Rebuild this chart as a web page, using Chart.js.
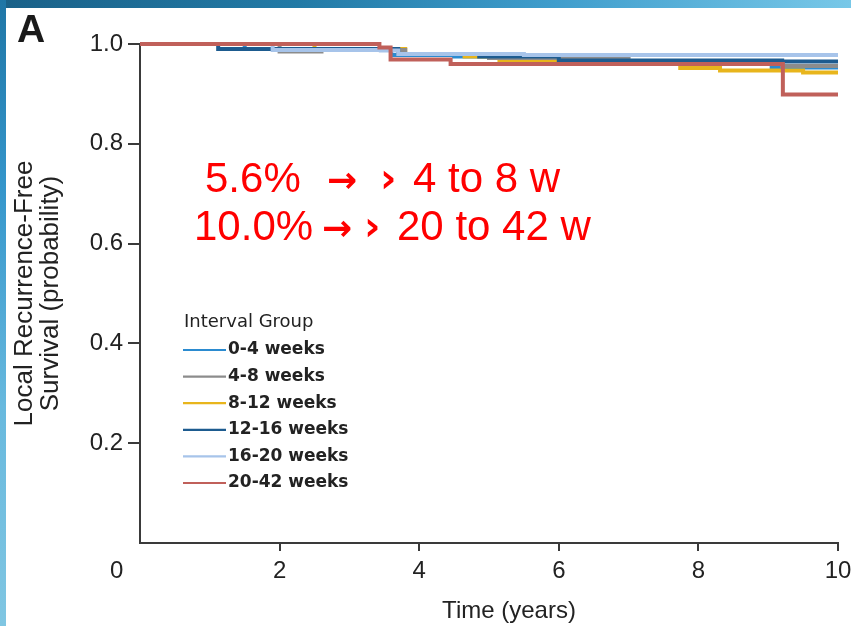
<!DOCTYPE html>
<html><head><meta charset="utf-8">
<script src="https://cdn.jsdelivr.net/npm/chart.js@4.4.1/dist/chart.umd.min.js"></script>
<style>
html,body{margin:0;padding:0;background:#fff;}
#wrap{position:relative;width:851px;height:626px;overflow:hidden;background:#fff;}
#topbar{position:absolute;left:0;top:0;width:851px;height:8px;background:linear-gradient(to right,#1a6188,#227aa6 35%,#3f9dcc 65%,#78c8e8);}
#leftbar{position:absolute;left:0;top:0;width:6px;height:626px;background:linear-gradient(to bottom,#1f76a6,#3596cb 30%,#68b9de 65%,#80c6e2);}
canvas{position:absolute;left:0;top:0;}
</style></head>
<body><div id="wrap"><canvas id="c" width="851" height="626"></canvas><div id="topbar"></div><div id="leftbar"></div></div>
<script>
// ---- data ----
const groups = ['0-4 weeks','4-8 weeks','8-12 weeks','12-16 weeks','16-20 weeks','20-42 weeks'];
const colors = ['#2b8bd0','#8c8c8c','#e8b51c','#1d5b8f','#a7c4ea','#c0605a'];
const drawOrder = [5,3,4,2,1,0];
const t0_4  = [0, 1.5, 3.6, 4.5, 6.5, 9.05, 10];
const s0_4  = [1.0, 0.990, 0.978, 0.975, 0.962, 0.953, 0.953];
const t4_8  = [0, 2.0, 2.6, 3.8, 5.0, 7.0, 9.2, 10];
const s4_8  = [1.0, 0.985, 0.988, 0.980, 0.972, 0.962, 0.956, 0.956];
const t8_12 = [0, 2.5, 3.8, 4.65, 5.15, 6.0, 7.74, 8.31, 9.5, 10];
const s8_12 = [1.0, 0.990, 0.980, 0.975, 0.968, 0.962, 0.952, 0.947, 0.943, 0.943];
const t12_16 = [0, 1.12, 3.7, 4.86, 6.0, 9.2, 10];
const s12_16 = [1.0, 0.990, 0.980, 0.975, 0.967, 0.965, 0.965];
const t16_20 = [0, 1.9, 3.45, 3.7, 5.5, 10];
const s16_20 = [1.0, 0.988, 0.987, 0.980, 0.978, 0.978];
const t20_42 = [0, 3.43, 3.59, 4.45, 9.21, 10];
const s20_42 = [1.0, 0.993, 0.969, 0.960, 0.899, 0.899];
const xTicks = [0, 2, 4, 6, 8, 10];
const yTicks = [0.2, 0.4, 0.6, 0.8, 1.0];
const annot1 = ['5.6%', '\u2192', '\u203a', '4 to 8 w'];
const annot2 = ['10.0%', '\u2192', '\u203a', '20 to 42 w'];

const times = [t0_4, t4_8, t8_12, t12_16, t16_20, t20_42];
const survs = [s0_4, s4_8, s8_12, s12_16, s16_20, s20_42];

const datasets = groups.map((g, i) => ({
  label: g,
  data: times[i].map((t, j) => ({x: t, y: survs[i][j]})),
  borderColor: colors[i],
  backgroundColor: colors[i],
  borderWidth: 4,
  stepped: 'before',
  pointRadius: 0,
  fill: false,
  clip: 8,
  order: drawOrder[i]
}));

const AX = '#3a3a3a';

function drawAnnot(ctx, parts, xs, y) {
  const fonts = ['42px "Liberation Sans", Arial, sans-serif',
                 'bold 36px "DejaVu Sans", sans-serif',
                 'bold 40px "DejaVu Sans", sans-serif',
                 '42px "Liberation Sans", Arial, sans-serif'];
  parts.forEach((p, i) => {
    ctx.font = fonts[i];
    ctx.fillText(p, xs[i], y);
  });
}

const extras = {
  id: 'extras',
  afterDraw(chart) {
    const ctx = chart.ctx;
    ctx.save();
    // panel letter
    ctx.fillStyle = '#1a1a1a';
    ctx.font = 'bold 39px "Liberation Sans", Arial, sans-serif';
    ctx.textBaseline = 'alphabetic';
    ctx.textAlign = 'left';
    ctx.fillText('A', 17, 42);
    // annotation
    ctx.fillStyle = '#ff0000';
    drawAnnot(ctx, annot1, [205, 327, 380, 413], 192);
    drawAnnot(ctx, annot2, [194, 322, 364, 397], 240);
    // legend
    ctx.fillStyle = '#222';
    ctx.textBaseline = 'middle';
    ctx.font = '18px "DejaVu Sans", sans-serif';
    ctx.fillText('Interval Group', 184, 322);
    ctx.font = 'bold 17px "DejaVu Sans", sans-serif';
    chart.data.datasets.forEach((ds, i) => {
      const y = 350 + i * 26.6;
      ctx.strokeStyle = ds.borderColor;
      ctx.lineWidth = 2.2;
      ctx.beginPath();
      ctx.moveTo(183, y);
      ctx.lineTo(226, y);
      ctx.stroke();
      ctx.fillStyle = '#222';
      ctx.fillText(ds.label, 228, y);
    });
    ctx.restore();
  }
};

new Chart(document.getElementById('c'), {
  type: 'line',
  data: {datasets},
  options: {
    responsive: false,
    animation: false,
    layout: {padding: {top: 44, right: 13, bottom: 0, left: 0}},
    plugins: {legend: {display: false}, tooltip: {enabled: false}},
    scales: {
      x: {
        type: 'linear', min: 0, max: 10, position: 'bottom',
        afterBuildTicks: s => { s.ticks = xTicks.map(v => ({value: v})); },
        afterFit: s => { s.height = 83; s.paddingLeft = 0; s.paddingRight = 0; },
        ticks: {
          autoSkip: false, maxRotation: 0, padding: 6, color: '#222',
          font: {family: '"Liberation Sans", Arial, sans-serif', size: 24},
          callback: v => v === 0 ? '0       ' : String(v)
        },
        grid: {
          drawOnChartArea: false, drawTicks: true, tickLength: 8, lineWidth: 2,
          color: c => (c.tick && c.tick.value === 0) ? 'rgba(0,0,0,0)' : AX
        },
        border: {display: true, color: AX, width: 2},
        title: {
          display: true, text: '      Time (years)', color: '#222',
          font: {family: '"Liberation Sans", Arial, sans-serif', size: 24, lineHeight: 1.2},
          padding: {top: 0, bottom: 0}
        }
      },
      y: {
        min: 0, max: 1,
        afterBuildTicks: s => { s.ticks = yTicks.map(v => ({value: v})); },
        afterFit: s => { s.width = 140; s.paddingTop = 0; s.paddingBottom = 0; },
        ticks: {
          padding: 5, color: '#222',
          font: {family: '"Liberation Sans", Arial, sans-serif', size: 24},
          callback: v => v.toFixed(1)
        },
        grid: {drawOnChartArea: false, drawTicks: true, tickLength: 12, lineWidth: 2, color: AX},
        border: {display: true, color: AX, width: 2},
        title: {
          display: true, text: ['Local Recurrence-Free', 'Survival (probability)'], color: '#222',
          font: {family: '"Liberation Sans", Arial, sans-serif', size: 26, lineHeight: 1.0},
          padding: {top: 12, bottom: 0}
        }
      }
    }
  },
  plugins: [extras]
});
</script></body></html>
